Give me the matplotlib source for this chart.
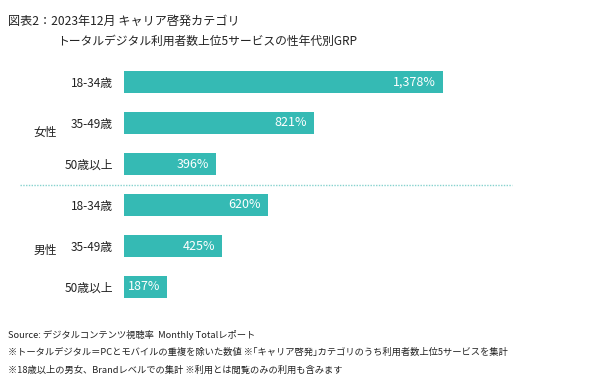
import matplotlib.pyplot as plt
import matplotlib.transforms as mtransforms

plt.rcParams['font.family'] = ['Noto Sans CJK JP', 'DejaVu Sans']

ages = ['18-34歳', '35-49歳', '50歳以上', '18-34歳', '35-49歳', '50歳以上']
genders = ['女性', '男性']
grp = [1378, 821, 396, 620, 425, 187]
value_labels = ['1,378%', '821%', '396%', '620%', '425%', '187%']

W, H = 595, 386
bar_color = '#35BAB4'
text_color = '#222222'

fig = plt.figure(figsize=(W / 100, H / 100), dpi=100)
# axes placed in pixels: bars start at x=124, rows 82..287 px from top
px_per_unit = 0.2316
left = 124
ax_w = W - left
top_px, bot_px = 82 - 20.5, 287 + 20.5
ax = fig.add_axes([left / W, 1 - bot_px / H, ax_w / W, (bot_px - top_px) / H])
ax.set_xlim(0, ax_w / px_per_unit)
ax.set_ylim(5.5, -0.5)

ypos = list(range(len(grp)))
ax.barh(ypos, grp, height=0.56, color=bar_color)

for y, v, lab in zip(ypos, grp, value_labels):
    ax.annotate(lab, (v, y), xytext=(-5, 0), textcoords='offset points',
                ha='right', va='center', color='white', fontsize=9)

ax.set_yticks(ypos, ages)
ax.tick_params(axis='y', length=0, pad=8, labelsize=8.5, labelcolor=text_color)
ax.set_xticks([])
for s in ax.spines.values():
    s.set_visible(False)

trans = mtransforms.blended_transform_factory(fig.transFigure, ax.transData)
for g, y in zip(genders, [1.22, 4.12]):
    ax.text(45 / W, y, g, transform=trans, ha='center', va='center',
            fontsize=8.5, color=text_color)

ax.plot([20 / W, 512 / W], [2.5, 2.5], transform=trans, clip_on=False,
        color='#86D2CE', lw=1, linestyle=(0, (1, 1)))

fig.text(8 / W, 1 - 21 / H, '図表2：2023年12月 キャリア啓発カテゴリ',
         fontsize=8.7, va='center', color=text_color)
fig.text(57 / W, 1 - 41 / H, 'トータルデジタル利用者数上位5サービスの性年代別GRP',
         fontsize=8.5, va='center', color=text_color)

footer = [
    'Source: デジタルコンテンツ視聴率  Monthly Totalレポート',
    '※トータルデジタル＝PCとモバイルの重複を除いた数値 ※｢キャリア啓発｣カテゴリのうち利用者数上位5サービスを集計',
    '※18歳以上の男女、Brandレベルでの集計 ※利用とは閲覧のみの利用も含みます',
]
for i, line in enumerate(footer):
    fig.text(8 / W, 1 - (335 + 17.5 * i) / H, line, fontsize=6.7,
             va='center', color=text_color)

fig.savefig('out.png', dpi=100, facecolor='white')
